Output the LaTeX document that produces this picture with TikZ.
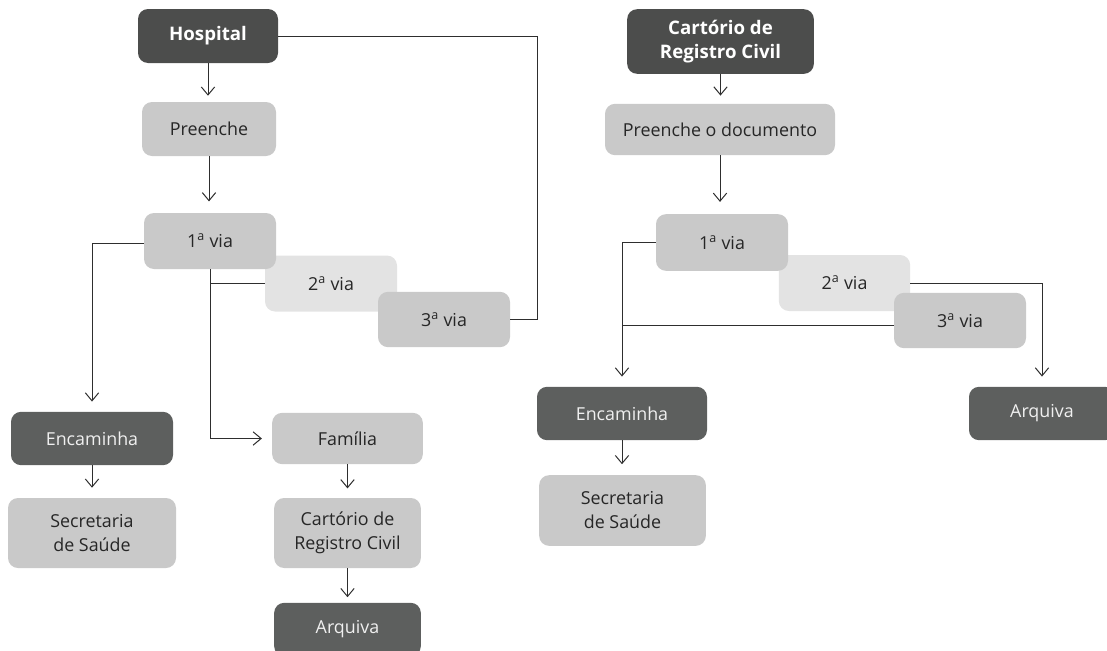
\documentclass[tikz,border=0pt]{standalone}
\usepackage{fontspec}
\setmainfont{Open Sans}
\usetikzlibrary{arrows.meta}

\definecolor{boxdark}{HTML}{4C4D4C}
\definecolor{boxmid}{HTML}{5D5F5E}
\definecolor{boxlight}{HTML}{C9C9C9}
\definecolor{boxpale}{HTML}{E3E3E3}
\definecolor{inktext}{HTML}{262626}
\definecolor{wire}{HTML}{2E2E2E}

\tikzset{
  card/.style={rectangle, rounded corners=7.5pt, draw=none, inner sep=0pt,
    align=center, font=\fontsize{13.4}{18}\selectfont},
  headcard/.style={card, fill=boxdark, text=white,
    font=\fontsize{14}{18}\selectfont\bfseries},
  darkcard/.style={card, fill=boxmid, text=white!94!black},
  lightcard/.style={card, fill=boxlight, text=inktext},
  palecard/.style={card, fill=boxpale, text=inktext},
  link/.style={draw=wire, line width=0.75pt},
  flow/.style={link, -{Straight Barb[length=6pt, width=10pt, line width=0.75pt]},
    shorten >=7.5pt},
}

\newcommand{\via}[1]{#1\textsuperscript{a} via}

\begin{document}
\begin{tikzpicture}[x=0.75pt, y=-0.75pt]
  \path[use as bounding box, clip] (0,0) rectangle (1107,650);

  % ---------- left flow: Hospital ----------
  \node[headcard, minimum width=105pt, minimum height=40.5pt] (hosp) at (208,36) {Hospital};
  \node[lightcard, minimum width=100.5pt, minimum height=40.5pt] (preL) at (209,129) {Preenche};
  \node[palecard, minimum width=99pt, minimum height=42pt] (via2L) at (331,283.5) {\via{2}};
  \node[lightcard, minimum width=99pt, minimum height=42pt] (via1L) at (210,241) {\via{1}};
  \node[lightcard, minimum width=99pt, minimum height=41.5pt] (via3L) at (444,319.5) {\via{3}};
  \node[darkcard, minimum width=121.5pt, minimum height=40pt] (encL) at (92,438.5) {Encaminha};
  \node[lightcard, minimum width=126pt, minimum height=52.5pt] (secL) at (92,533) {Secretaria\\de Saúde};
  \node[lightcard, minimum width=113pt, minimum height=38.5pt] (fam) at (347.5,438.5) {Família};
  \node[lightcard, minimum width=110pt, minimum height=52.5pt] (cartL) at (347.5,533) {Cartório de\\Registro Civil};
  \node[darkcard, minimum width=110pt, minimum height=40pt] (arqL) at (347.5,629.5) {Arquiva};

  \coordinate (hookL) at (537,0);

  \draw[flow, shorten >=4.5pt] (hosp.south) -- (hosp.south |- preL.north);
  \draw[flow, shorten >=8.5pt] (preL.south) -- (preL.south |- via1L.north);
  \draw[flow] ([yshift=-1.5pt]via1L.west) -| (encL.north);
  \draw[flow] (via1L.south) |- (fam.west);
  \draw[link] (via2L.west) -- (via2L.west -| via1L.south);
  \draw[link] (via3L.east) -- (via3L.east -| hookL) |- (hosp.east);
  \draw[flow] (encL.south) -- (encL.south |- secL.north);
  \draw[flow, shorten >=7pt] (fam.south) -- (fam.south |- cartL.north);
  \draw[flow, shorten >=4pt] (cartL.south) -- (cartL.south |- arqL.north);

  % ---------- right flow: Cartório de Registro Civil ----------
  \node[headcard, minimum width=140pt, minimum height=48.5pt] (cartT) at (720.5,41.5) {Cartório de\\Registro Civil};
  \node[lightcard, minimum width=172.5pt, minimum height=38.5pt] (preR) at (720,129.5) {Preenche o documento};
  \node[palecard, minimum width=98.5pt, minimum height=42pt] (via2R) at (844.5,283) {\via{2}};
  \node[lightcard, minimum width=99pt, minimum height=42.5pt] (via1R) at (722,242.5) {\via{1}};
  \node[lightcard, minimum width=99pt, minimum height=41.5pt] (via3R) at (960,320.5) {\via{3}};
  \node[darkcard, minimum width=127.5pt, minimum height=40pt] (encR) at (622,413.5) {Encaminha};
  \node[lightcard, minimum width=125pt, minimum height=53pt] (secR) at (622.5,510.5) {Secretaria\\de Saúde};
  \node[darkcard, minimum width=109.5pt, minimum height=40pt] (arqR) at (1042,413.5) {Arquiva};

  \draw[flow, shorten >=6pt] (cartT.south) -- (cartT.south |- preR.north);
  \draw[flow, shorten >=9pt] (preR.south) -- (preR.south |- via1R.north);
  \draw[flow] (via1R.west) -| (encR.north);
  \draw[link] ([yshift=-3.5pt]via3R.west) -- ([yshift=-3.5pt]via3R.west -| encR.north);
  \draw[flow] (via2R.east) -| (arqR.north);
  \draw[flow, shorten >=8pt] (encR.south) -- (encR.south |- secR.north);
\end{tikzpicture}
\end{document}
